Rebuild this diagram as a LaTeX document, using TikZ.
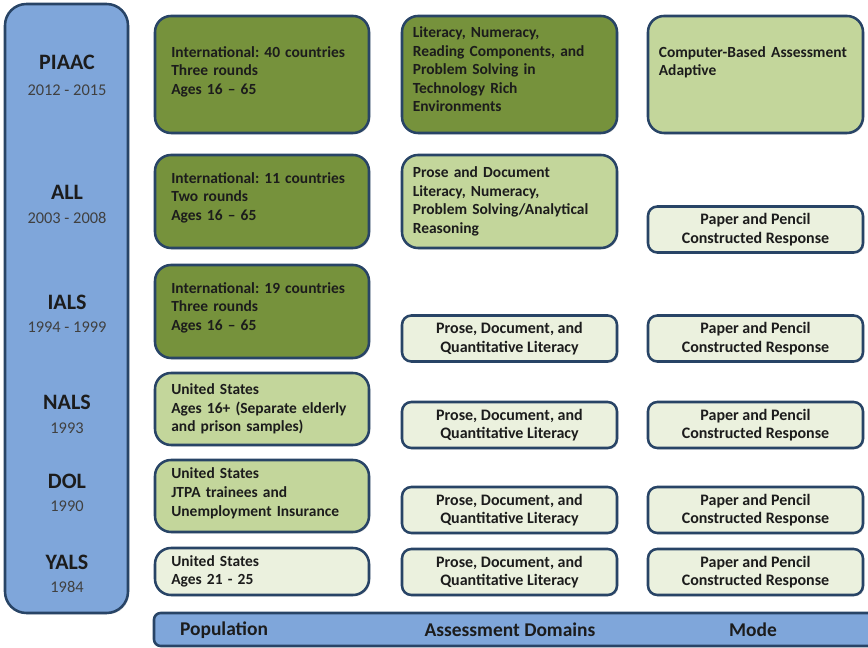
\documentclass[tikz,border=0pt]{standalone}
\usepackage{fontspec}
\setmainfont{Carlito}
\usetikzlibrary{shadows}

\definecolor{eraBlue}{RGB}{127,166,218}
\definecolor{edgeBlue}{RGB}{40,68,102}
\definecolor{darkGreen}{RGB}{118,146,60}
\definecolor{midGreen}{RGB}{195,214,155}
\definecolor{paleGreen}{RGB}{235,241,222}
\definecolor{inkText}{RGB}{28,28,28}
\definecolor{yearText}{RGB}{64,64,64}

\tikzset{every picture/.style={line width=0.75pt}}
\tikzset{
  card/.style={draw=edgeBlue, line width=1.9pt, rounded corners=#1, text=inkText,
    font=\fontsize{11.6}{13.9}\selectfont\bfseries\frenchspacing, inner sep=0pt,
    drop shadow={opacity=0.25, shadow xshift=1pt, shadow yshift=-1pt}},
  card/.default=11pt,
  popcard/.style={card=12pt, minimum width=160.5pt, text width=136pt, align=left},
  domcard/.style={card=12pt, minimum width=161.25pt, text width=145pt, align=left},
  smallcard/.style={card=7pt, fill=paleGreen, minimum width=161.25pt, minimum height=34.5pt, align=center,
    font=\fontsize{12}{13.9}\selectfont\bfseries\frenchspacing},
  surveyname/.style={font=\fontsize{16.5}{18}\selectfont\bfseries, text=inkText, inner sep=0pt},
  surveyyear/.style={font=\fontsize{12.3}{14}\selectfont, text=yearText, inner sep=0pt},
  barlabel/.style={font=\fontsize{14.6}{16}\selectfont\bfseries, text=inkText, inner sep=0pt}
}

\begin{document}
\begin{tikzpicture}[x=0.75pt,y=0.75pt,yscale=-1,xscale=1]
    \useasboundingbox (0,0) rectangle (868,648);

    % Era column
    \draw [draw=edgeBlue, line width=1.9pt, fill=eraBlue, rounded corners=16pt,
      drop shadow={opacity=0.25, shadow xshift=1pt, shadow yshift=-1pt}] (5,4) rectangle (128,613);
    % Bottom bar
    \draw [draw=edgeBlue, line width=1.9pt, fill=eraBlue, rounded corners=5pt] (154,613) rectangle (890,646);

    % Survey names and years
    \node [surveyname] (piaac) at (67,62) {PIAAC};
    \node [surveyyear] (piaacYr) at (67,90) {2012 - 2015};
    \node [surveyname] (all) at (67,192) {ALL};
    \node [surveyyear] (allYr) at (67,218) {2003 - 2008};
    \node [surveyname] (ials) at (67,302) {IALS};
    \node [surveyyear] (ialsYr) at (67,327) {1994 - 1999};
    \node [surveyname] (nals) at (67,402) {NALS};
    \node [surveyyear] (nalsYr) at (67,428) {1993};
    \node [surveyname] (dol) at (67,481) {DOL};
    \node [surveyyear] (dolYr) at (67,506) {1990};
    \node [surveyname] (yals) at (67,562) {YALS};
    \node [surveyyear] (yalsYr) at (67,587) {1984};

    % Population column
    \node [popcard, fill=darkGreen, minimum height=87.75pt] (popPiaac) at (262,74.5) {International: 40 countries\\Three rounds\\Ages 16 -- 65\\[-8pt]~};
    \node [popcard, fill=darkGreen, minimum height=69.75pt] (popAll) at (262,201.5) {International: 11 countries\\Two rounds\\Ages 16 -- 65\\[-6pt]~};
    \node [popcard, fill=darkGreen, minimum height=69.75pt] (popIals) at (262,311.5) {International: 19 countries\\Three rounds\\Ages 16 -- 65\\[-6pt]~};
    \node [popcard, fill=midGreen, minimum height=54pt] (popNals) at (262,409) {United States\\Ages 16+ (Separate elderly\\and prison samples)};
    \node [popcard, fill=midGreen, minimum height=54pt] (popDol) at (262,496) {United States\\JTPA trainees and\\Unemployment Insurance\\[-8pt]~};
    \node [popcard, fill=paleGreen, minimum height=35.25pt] (popYals) at (262,571.5) {United States\\Ages 21 - 25};

    % Assessment domains column
    \node [domcard, fill=darkGreen, minimum height=87.75pt] (domPiaac) at (509.5,74.5) {Literacy, Numeracy,\\Reading Components, and\\Problem Solving in\\Technology Rich\\Environments\\[-6pt]~};
    \node [domcard, fill=midGreen, minimum height=69.75pt] (domAll) at (509.5,201.5) {Prose and Document\\Literacy, Numeracy,\\Problem Solving/Analytical\\Reasoning};
    \node [smallcard] (domIals) at (509.5,338.5) {Prose, Document, and\\Quantitative Literacy};
    \node [smallcard] (domNals) at (509.5,425) {Prose, Document, and\\Quantitative Literacy};
    \node [smallcard] (domDol) at (509.5,510) {Prose, Document, and\\Quantitative Literacy};
    \node [smallcard] (domYals) at (509.5,572) {Prose, Document, and\\Quantitative Literacy};

    % Mode column
    \node [domcard, fill=midGreen, minimum height=87.75pt] (modePiaac) at (755.5,74.5) {Computer-Based Assessment\\Adaptive\\~\\[-8pt]~};
    \node [smallcard] (modeAll) at (755.5,229.5) {Paper and Pencil\\Constructed Response};
    \node [smallcard] (modeIals) at (755.5,338.5) {Paper and Pencil\\Constructed Response};
    \node [smallcard] (modeNals) at (755.5,425) {Paper and Pencil\\Constructed Response};
    \node [smallcard] (modeDol) at (755.5,510) {Paper and Pencil\\Constructed Response};
    \node [smallcard] (modeYals) at (755.5,572) {Paper and Pencil\\Constructed Response};

    % Bar labels
    \node [barlabel] (popLabel) at (224,630) {Population};
    \node [barlabel] (domLabel) at (510,630) {Assessment Domains};
    \node [barlabel] (modeLabel) at (753,630) {Mode};

\end{tikzpicture}
\end{document}
